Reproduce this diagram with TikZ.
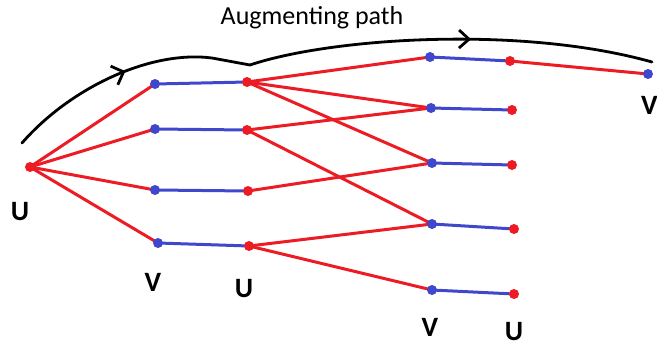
\documentclass[tikz,border=0pt]{standalone}
\usepackage{fontspec}
\setmainfont{Carlito}
\usetikzlibrary{arrows.meta,decorations.markings,backgrounds}
\definecolor{pred}{RGB}{237,28,36}
\definecolor{pblue}{RGB}{63,72,204}
\tikzset{
  udot/.style={circle,fill=pred,inner sep=0pt,minimum size=10pt},
  vdot/.style={circle,fill=pblue,inner sep=0pt,minimum size=10pt},
  redge/.style={draw=pred,line width=3pt},
  bedge/.style={draw=pblue,line width=3pt},
  lab/.style={font=\fontsize{28}{30}\selectfont\bfseries,inner sep=0pt},
  pathline/.style={draw=black,line width=2.8pt,line cap=round},
}
\begin{document}
\begin{tikzpicture}[x=1pt,y=-1pt]
\useasboundingbox (0,0) rectangle (657,348);
\clip (0,0) rectangle (657,348);
% dots
\node[udot] (u0) at (30,167) {};
\node[vdot] (v1a) at (155,84) {};
\node[vdot] (v1b) at (155,129) {};
\node[vdot] (v1c) at (155,190) {};
\node[vdot] (v1d) at (158,243) {};
\node[udot] (u1a) at (247,82) {};
\node[udot] (u1b) at (247,130) {};
\node[udot] (u1c) at (248,191) {};
\node[udot] (u1d) at (249,246) {};
\node[vdot] (v2a) at (430,57) {};
\node[vdot] (v2b) at (431,108) {};
\node[vdot] (v2c) at (432,163) {};
\node[vdot] (v2d) at (432,224) {};
\node[vdot] (v2e) at (432,290) {};
\node[udot] (u2a) at (510,61) {};
\node[udot] (u2b) at (512,110) {};
\node[udot] (u2c) at (512,165) {};
\node[udot] (u2d) at (514,229) {};
\node[udot] (u2e) at (514,294) {};
\node[vdot] (v3) at (648,74) {};
\begin{scope}[on background layer]
% red edges
\foreach \t in {v1a,v1b,v1c,v1d} \path[redge] (u0.center) -- (\t.center);
\path[redge] (u1a.center) -- (v2a.center);
\path[redge] (u1a.center) -- (v2b.center);
\path[redge] (u1a.center) -- (v2c.center);
\path[redge] (u1b.center) -- (v2b.center);
\path[redge] (u1b.center) -- (v2d.center);
\path[redge] (u1c.center) -- (v2c.center);
\path[redge] (u1d.center) -- (v2d.center);
\path[redge] (u1d.center) -- (v2e.center);
\path[redge] (u2a.center) -- (v3.center);
% blue edges
\path[bedge] (v1a.center) -- (u1a.center);
\path[bedge] (v1b.center) -- (u1b.center);
\path[bedge] (v1c.center) -- (u1c.center);
\path[bedge] (v1d.center) -- (u1d.center);
\path[bedge] (v2a.center) -- (u2a.center);
\path[bedge] (v2b.center) -- (u2b.center);
\path[bedge] (v2c.center) -- (u2c.center);
\path[bedge] (v2d.center) -- (u2d.center);
\path[bedge] (v2e.center) -- (u2e.center);
\end{scope}
% augmenting path curve
\coordinate (c0) at (22,143);
\coordinate (c1) at (250,65);
\coordinate (c2) at (652,62);
\path[pathline,postaction={decorate},decoration={markings,
  mark=at position 0.5 with {\arrow{Straight Barb[length=10pt,width=20pt,line width=2.8pt]}}}]
  (c0) .. controls (70,88) and (150,50) .. (212,58) -- (c1);
\path[pathline,postaction={decorate},decoration={markings,
  mark=at position 0.55 with {\arrow{Straight Barb[length=10pt,width=18pt,line width=2.8pt]}}}]
  (c1) .. controls (330,38) and (520,25) .. (c2);
% labels
\node[font=\fontsize{26}{28}\selectfont] (title) at (312,18) {Augmenting path};
\node[lab] (l0) at (20,212) {U};
\node[lab] (l1) at (153,282) {V};
\node[lab] (l2) at (244,289) {U};
\node[lab] (l3) at (430,327) {V};
\node[lab] (l4) at (514,332) {U};
\node[lab,anchor=west] (l5) at (641,105) {V};
\end{tikzpicture}
\end{document}
